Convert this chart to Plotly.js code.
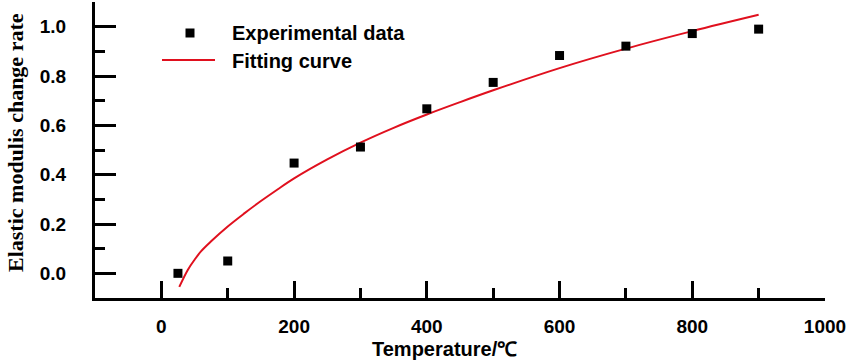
<!DOCTYPE html>
<html>
<head>
<meta charset="utf-8">
<script src="https://cdn.plot.ly/plotly-3.0.1.min.js"></script>
<style>html,body{margin:0;padding:0;background:#fff;}#chart{width:850px;height:364px;}</style>
</head>
<body>
<div id="chart"></div>
<script>
// Experimental data
var expTemp = [25, 100, 200, 300, 400, 500, 600, 700, 800, 900];
var expRate = [0.0, 0.05, 0.447, 0.512, 0.667, 0.774, 0.883, 0.921, 0.972, 0.99];

// Fitting curve
var fitTemp = [27, 40, 50, 60, 75, 100, 125, 150, 175, 200, 250, 300, 350, 400, 450, 500, 600, 700, 800, 900];
var fitRate = [-0.055, 0.015, 0.055, 0.09, 0.13, 0.19, 0.243, 0.293, 0.34, 0.385, 0.462, 0.53, 0.59, 0.644, 0.694, 0.742, 0.832, 0.911, 0.982, 1.048];

var xTicks = [0, 200, 400, 600, 800, 1000];
var yTicks = [0.0, 0.2, 0.4, 0.6, 0.8, 1.0];
var yTickText = ['0.0', '0.2', '0.4', '0.6', '0.8', '1.0'];

var legendNames = ['Experimental data', 'Fitting curve'];
var xTitle = 'Temperature/\u2103';
var yTitle = 'Elastic modulis change rate';

var red = '#e0101e';
var sans = '"Liberation Sans", Arial, sans-serif';
var serif = '"Liberation Serif", "Times New Roman", serif';

var traces = [
  {
    x: fitTemp, y: fitRate, type: 'scatter', mode: 'lines',
    name: legendNames[1],
    line: {color: red, width: 2, shape: 'spline', smoothing: 1},
    hoverinfo: 'x+y'
  },
  {
    x: expTemp, y: expRate, type: 'scatter', mode: 'markers',
    name: legendNames[0],
    marker: {symbol: 'square', size: 9, color: '#000'},
    hoverinfo: 'x+y'
  }
];

var layout = {
  width: 850, height: 364,
  margin: {l: 95, r: 25, t: 2, b: 66, pad: 0},
  paper_bgcolor: '#fff', plot_bgcolor: '#fff',
  showlegend: false,
  xaxis: {
    range: [-100, 1000], showgrid: false, zeroline: false,
    showline: true, linecolor: '#000', linewidth: 3,
    ticks: 'inside', ticklen: 17, tickwidth: 3, tickcolor: '#000',
    tickmode: 'array', tickvals: xTicks,
    ticklabelstandoff: 9,
    tickfont: {family: sans, size: 19, color: '#000', weight: 'bold'},
    minor: {dtick: 100, ticks: 'inside', ticklen: 10, tickwidth: 3, tickcolor: '#000', showgrid: false}
  },
  yaxis: {
    range: [-0.1, 1.1], showgrid: false, zeroline: false,
    showline: true, linecolor: '#000', linewidth: 3,
    ticks: 'inside', ticklen: 21, tickwidth: 3, tickcolor: '#000',
    tickmode: 'array', tickvals: yTicks, ticktext: yTickText,
    ticklabelstandoff: 22,
    tickfont: {family: sans, size: 19, color: '#000', weight: 'bold'},
    minor: {dtick: 0.1, ticks: 'inside', ticklen: 10, tickwidth: 3, tickcolor: '#000', showgrid: false}
  },
  shapes: [
    {type: 'line', xref: 'paper', yref: 'paper',
     x0: (162 - 95) / 730, x1: (215 - 95) / 730,
     y0: (364 - 66 - 60) / 296, y1: (364 - 66 - 60) / 296,
     line: {color: red, width: 2}},
    {type: 'rect', xref: 'paper', yref: 'paper',
     x0: (185.5 - 95) / 730, x1: (194.5 - 95) / 730,
     y0: (298 - 37.5) / 296, y1: (298 - 28.5) / 296,
     fillcolor: '#000', line: {width: 0}}
  ],
  annotations: [
    {text: legendNames[0], xref: 'paper', yref: 'paper', x: (230 - 95) / 730, y: (298 - 33) / 296,
     xanchor: 'left', yanchor: 'middle', showarrow: false,
     font: {family: sans, size: 20, color: '#000', weight: 'bold'}},
    {text: legendNames[1], xref: 'paper', yref: 'paper', x: (230 - 95) / 730, y: (298 - 61) / 296,
     xanchor: 'left', yanchor: 'middle', showarrow: false,
     font: {family: sans, size: 20, color: '#000', weight: 'bold'}},
    {text: xTitle, xref: 'paper', yref: 'paper', x: (444 - 95) / 730, y: (298 - 349) / 296,
     xanchor: 'center', yanchor: 'middle', showarrow: false,
     font: {family: sans, size: 20, color: '#000', weight: 'bold'}},
    {text: yTitle, xref: 'paper', yref: 'paper', x: (15 - 95) / 730, y: (298 - 143) / 296,
     xanchor: 'center', yanchor: 'middle', showarrow: false, textangle: -90,
     font: {family: serif, size: 22, color: '#000', weight: 'bold'}}
  ]
};

Plotly.newPlot('chart', traces, layout, {staticPlot: true, displayModeBar: false});
</script>
</body>
</html>
